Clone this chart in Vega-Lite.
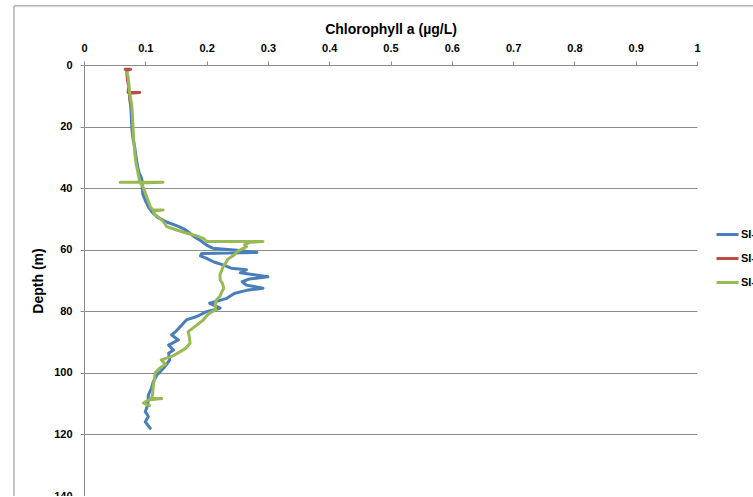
{
  "$schema": "https://vega.github.io/schema/vega-lite/v6.json",
  "autosize": {"type": "none"},
  "padding": {"left": 84, "top": 65, "right": 56, "bottom": 0},
  "width": 613,
  "height": 431,
  "background": "white",
  "config": {
    "font": "Liberation Sans",
    "view": {"stroke": null},
    "axis": {"labelFont": "Liberation Sans", "titleFont": "Liberation Sans", "labelFontWeight": "bold", "titleFontWeight": "bold", "labelColor": "#000", "titleColor": "#000", "domainColor": "#8c8c8c", "tickColor": "#8c8c8c", "labelFontSize": 11}
  },
  "datasets": {
    "frame": [{"k": "frame"}],
    "profiles": [
      {"s": "SI-1", "i": 1, "d": 10, "c": 0.074},
      {"s": "SI-1", "i": 2, "d": 13, "c": 0.076},
      {"s": "SI-1", "i": 3, "d": 16, "c": 0.077},
      {"s": "SI-1", "i": 4, "d": 20.6, "c": 0.078},
      {"s": "SI-1", "i": 5, "d": 24, "c": 0.08},
      {"s": "SI-1", "i": 6, "d": 27, "c": 0.083},
      {"s": "SI-1", "i": 7, "d": 30, "c": 0.085},
      {"s": "SI-1", "i": 8, "d": 33.5, "c": 0.088},
      {"s": "SI-1", "i": 9, "d": 35, "c": 0.09},
      {"s": "SI-1", "i": 10, "d": 36.8, "c": 0.094},
      {"s": "SI-1", "i": 11, "d": 38, "c": 0.095},
      {"s": "SI-1", "i": 12, "d": 40, "c": 0.095},
      {"s": "SI-1", "i": 13, "d": 42, "c": 0.096},
      {"s": "SI-1", "i": 14, "d": 44, "c": 0.1},
      {"s": "SI-1", "i": 15, "d": 46.4, "c": 0.106},
      {"s": "SI-1", "i": 16, "d": 48, "c": 0.112},
      {"s": "SI-1", "i": 17, "d": 49.5, "c": 0.12},
      {"s": "SI-1", "i": 18, "d": 51, "c": 0.135},
      {"s": "SI-1", "i": 19, "d": 52.5, "c": 0.155},
      {"s": "SI-1", "i": 20, "d": 53.5, "c": 0.165},
      {"s": "SI-1", "i": 21, "d": 54.5, "c": 0.172},
      {"s": "SI-1", "i": 22, "d": 55.5, "c": 0.178},
      {"s": "SI-1", "i": 23, "d": 57, "c": 0.19},
      {"s": "SI-1", "i": 24, "d": 58.5, "c": 0.2},
      {"s": "SI-1", "i": 25, "d": 59.5, "c": 0.21},
      {"s": "SI-1", "i": 26, "d": 60.2, "c": 0.25},
      {"s": "SI-1", "i": 27, "d": 60.9, "c": 0.282},
      {"s": "SI-1", "i": 28, "d": 61.2, "c": 0.192},
      {"s": "SI-1", "i": 29, "d": 62, "c": 0.19},
      {"s": "SI-1", "i": 30, "d": 62.8, "c": 0.2},
      {"s": "SI-1", "i": 31, "d": 64, "c": 0.212},
      {"s": "SI-1", "i": 32, "d": 65, "c": 0.228},
      {"s": "SI-1", "i": 33, "d": 66, "c": 0.24},
      {"s": "SI-1", "i": 34, "d": 66.5, "c": 0.265},
      {"s": "SI-1", "i": 35, "d": 67.5, "c": 0.255},
      {"s": "SI-1", "i": 36, "d": 68.8, "c": 0.3},
      {"s": "SI-1", "i": 37, "d": 69.5, "c": 0.27},
      {"s": "SI-1", "i": 38, "d": 70.4, "c": 0.258},
      {"s": "SI-1", "i": 39, "d": 71.5, "c": 0.265},
      {"s": "SI-1", "i": 40, "d": 72.5, "c": 0.292},
      {"s": "SI-1", "i": 41, "d": 73.2, "c": 0.265},
      {"s": "SI-1", "i": 42, "d": 74.2, "c": 0.245},
      {"s": "SI-1", "i": 43, "d": 75.8, "c": 0.233},
      {"s": "SI-1", "i": 44, "d": 77.4, "c": 0.205},
      {"s": "SI-1", "i": 45, "d": 79, "c": 0.222},
      {"s": "SI-1", "i": 46, "d": 80.1, "c": 0.2},
      {"s": "SI-1", "i": 47, "d": 81.7, "c": 0.184},
      {"s": "SI-1", "i": 48, "d": 82.8, "c": 0.167},
      {"s": "SI-1", "i": 49, "d": 85, "c": 0.157},
      {"s": "SI-1", "i": 50, "d": 86.5, "c": 0.15},
      {"s": "SI-1", "i": 51, "d": 87.7, "c": 0.143},
      {"s": "SI-1", "i": 52, "d": 89.3, "c": 0.154},
      {"s": "SI-1", "i": 53, "d": 91, "c": 0.138},
      {"s": "SI-1", "i": 54, "d": 92.6, "c": 0.146},
      {"s": "SI-1", "i": 55, "d": 93.6, "c": 0.138},
      {"s": "SI-1", "i": 56, "d": 95.8, "c": 0.14},
      {"s": "SI-1", "i": 57, "d": 98, "c": 0.132},
      {"s": "SI-1", "i": 58, "d": 100.7, "c": 0.119},
      {"s": "SI-1", "i": 59, "d": 102.9, "c": 0.113},
      {"s": "SI-1", "i": 60, "d": 105, "c": 0.11},
      {"s": "SI-1", "i": 61, "d": 107.2, "c": 0.105},
      {"s": "SI-1", "i": 62, "d": 110.4, "c": 0.104},
      {"s": "SI-1", "i": 63, "d": 112.6, "c": 0.1},
      {"s": "SI-1", "i": 64, "d": 114.2, "c": 0.105},
      {"s": "SI-1", "i": 65, "d": 115.9, "c": 0.1},
      {"s": "SI-1", "i": 66, "d": 118, "c": 0.108},

      {"s": "SI-2", "i": 1, "d": 1.4, "c": 0.067},
      {"s": "SI-2", "i": 2, "d": 1.4, "c": 0.076},
      {"s": "SI-2", "i": 3, "d": 1.7, "c": 0.07},
      {"s": "SI-2", "i": 4, "d": 3, "c": 0.07},
      {"s": "SI-2", "i": 5, "d": 5, "c": 0.071},
      {"s": "SI-2", "i": 6, "d": 7, "c": 0.073},
      {"s": "SI-2", "i": 7, "d": 8.9, "c": 0.072},
      {"s": "SI-2", "i": 8, "d": 8.9, "c": 0.091},
      {"s": "SI-2", "i": 9, "d": 9.2, "c": 0.074},
      {"s": "SI-2", "i": 10, "d": 11, "c": 0.075},
      {"s": "SI-2", "i": 11, "d": 12.5, "c": 0.076},

      {"s": "SI-3", "i": 1, "d": 2.5, "c": 0.07},
      {"s": "SI-3", "i": 2, "d": 4, "c": 0.072},
      {"s": "SI-3", "i": 3, "d": 6, "c": 0.073},
      {"s": "SI-3", "i": 4, "d": 8, "c": 0.074},
      {"s": "SI-3", "i": 5, "d": 10, "c": 0.075},
      {"s": "SI-3", "i": 6, "d": 13, "c": 0.078},
      {"s": "SI-3", "i": 7, "d": 16, "c": 0.079},
      {"s": "SI-3", "i": 8, "d": 20, "c": 0.08},
      {"s": "SI-3", "i": 9, "d": 24, "c": 0.081},
      {"s": "SI-3", "i": 10, "d": 29, "c": 0.083},
      {"s": "SI-3", "i": 11, "d": 32, "c": 0.085},
      {"s": "SI-3", "i": 12, "d": 35, "c": 0.088},
      {"s": "SI-3", "i": 13, "d": 37, "c": 0.09},
      {"s": "SI-3", "i": 14, "d": 38.1, "c": 0.09},
      {"s": "SI-3", "i": 15, "d": 38.1, "c": 0.059},
      {"s": "SI-3", "i": 16, "d": 38.1, "c": 0.129},
      {"s": "SI-3", "i": 17, "d": 38.3, "c": 0.092},
      {"s": "SI-3", "i": 18, "d": 39.5, "c": 0.096},
      {"s": "SI-3", "i": 19, "d": 41, "c": 0.099},
      {"s": "SI-3", "i": 20, "d": 43.8, "c": 0.104},
      {"s": "SI-3", "i": 21, "d": 46, "c": 0.108},
      {"s": "SI-3", "i": 22, "d": 47, "c": 0.112},
      {"s": "SI-3", "i": 23, "d": 47.1, "c": 0.129},
      {"s": "SI-3", "i": 24, "d": 47.4, "c": 0.113},
      {"s": "SI-3", "i": 25, "d": 48.5, "c": 0.115},
      {"s": "SI-3", "i": 26, "d": 49.5, "c": 0.122},
      {"s": "SI-3", "i": 27, "d": 51, "c": 0.13},
      {"s": "SI-3", "i": 28, "d": 52.5, "c": 0.135},
      {"s": "SI-3", "i": 29, "d": 53.5, "c": 0.15},
      {"s": "SI-3", "i": 30, "d": 54.5, "c": 0.165},
      {"s": "SI-3", "i": 31, "d": 55.5, "c": 0.184},
      {"s": "SI-3", "i": 32, "d": 56.5, "c": 0.196},
      {"s": "SI-3", "i": 33, "d": 57.3, "c": 0.2},
      {"s": "SI-3", "i": 34, "d": 57.3, "c": 0.292},
      {"s": "SI-3", "i": 35, "d": 57.6, "c": 0.27},
      {"s": "SI-3", "i": 36, "d": 58.4, "c": 0.262},
      {"s": "SI-3", "i": 37, "d": 59, "c": 0.265},
      {"s": "SI-3", "i": 38, "d": 60.6, "c": 0.25},
      {"s": "SI-3", "i": 39, "d": 61.7, "c": 0.245},
      {"s": "SI-3", "i": 40, "d": 63, "c": 0.235},
      {"s": "SI-3", "i": 41, "d": 64, "c": 0.232},
      {"s": "SI-3", "i": 42, "d": 65.5, "c": 0.227},
      {"s": "SI-3", "i": 43, "d": 66.5, "c": 0.225},
      {"s": "SI-3", "i": 44, "d": 68, "c": 0.222},
      {"s": "SI-3", "i": 45, "d": 69.8, "c": 0.222},
      {"s": "SI-3", "i": 46, "d": 71, "c": 0.226},
      {"s": "SI-3", "i": 47, "d": 72.5, "c": 0.228},
      {"s": "SI-3", "i": 48, "d": 73.6, "c": 0.225},
      {"s": "SI-3", "i": 49, "d": 75, "c": 0.222},
      {"s": "SI-3", "i": 50, "d": 76.3, "c": 0.216},
      {"s": "SI-3", "i": 51, "d": 78, "c": 0.214},
      {"s": "SI-3", "i": 52, "d": 79.5, "c": 0.215},
      {"s": "SI-3", "i": 53, "d": 80.6, "c": 0.205},
      {"s": "SI-3", "i": 54, "d": 81.5, "c": 0.2},
      {"s": "SI-3", "i": 55, "d": 82.8, "c": 0.195},
      {"s": "SI-3", "i": 56, "d": 84.5, "c": 0.184},
      {"s": "SI-3", "i": 57, "d": 86.6, "c": 0.17},
      {"s": "SI-3", "i": 58, "d": 88.5, "c": 0.172},
      {"s": "SI-3", "i": 59, "d": 90.4, "c": 0.173},
      {"s": "SI-3", "i": 60, "d": 92, "c": 0.166},
      {"s": "SI-3", "i": 61, "d": 93.1, "c": 0.157},
      {"s": "SI-3", "i": 62, "d": 94.5, "c": 0.145},
      {"s": "SI-3", "i": 63, "d": 95.8, "c": 0.126},
      {"s": "SI-3", "i": 64, "d": 97.2, "c": 0.133},
      {"s": "SI-3", "i": 65, "d": 98.4, "c": 0.124},
      {"s": "SI-3", "i": 66, "d": 100, "c": 0.116},
      {"s": "SI-3", "i": 67, "d": 102, "c": 0.115},
      {"s": "SI-3", "i": 68, "d": 104.2, "c": 0.113},
      {"s": "SI-3", "i": 69, "d": 107, "c": 0.112},
      {"s": "SI-3", "i": 70, "d": 108.3, "c": 0.11},
      {"s": "SI-3", "i": 71, "d": 108.3, "c": 0.127},
      {"s": "SI-3", "i": 72, "d": 108.8, "c": 0.105},
      {"s": "SI-3", "i": 73, "d": 109.8, "c": 0.097},
      {"s": "SI-3", "i": 74, "d": 110.3, "c": 0.102},
      {"s": "SI-3", "i": 75, "d": 110.6, "c": 0.107}
    ]
  },
  "layer": [
    {
      "data": {"name": "frame"},
      "mark": {"type": "rect", "fill": "transparent", "stroke": "#8c8c8c", "strokeWidth": 1, "clip": false},
      "encoding": {
        "x": {"datum": -0.1142, "type": "quantitative", "scale": {"domain": [0, 1], "nice": false}},
        "x2": {"datum": 1.3},
        "y": {"datum": -19.2, "type": "quantitative", "scale": {"domain": [0, 140], "reverse": true, "nice": false}},
        "y2": {"datum": 170}
      }
    },
    {
      "data": {"name": "profiles"},
      "mark": {"type": "line", "strokeWidth": 3, "strokeJoin": "round", "strokeCap": "round", "clip": false},
      "encoding": {
        "x": {
          "field": "c", "type": "quantitative",
          "scale": {"domain": [0, 1], "nice": false},
          "axis": {"orient": "top", "title": "Chlorophyll a (µg/L)", "titleFontSize": 14, "titlePadding": 6, "values": [0, 0.1, 0.2, 0.3, 0.4, 0.5, 0.6, 0.7, 0.8, 0.9, 1], "format": "~g", "grid": false, "tickSize": 4, "labelPadding": 8, "labelFlush": false}
        },
        "y": {
          "field": "d", "type": "quantitative",
          "scale": {"domain": [0, 140], "reverse": true, "nice": false},
          "axis": {"title": "Depth (m)", "titleFontSize": 14, "titlePadding": 8, "values": [0, 20, 40, 60, 80, 100, 120, 140], "grid": true, "gridColor": "#8c8c8c", "gridWidth": 1, "tickSize": 4, "labelPadding": 8}
        },
        "color": {
          "field": "s", "type": "nominal",
          "scale": {"domain": ["SI-1", "SI-2", "SI-3"], "range": ["#4a7ebb", "#be4b48", "#98b954"]},
          "legend": {"title": null, "orient": "none", "legendX": 631, "legendY": 157, "symbolType": "stroke", "symbolSize": 484, "symbolStrokeWidth": 3, "labelFontSize": 11, "labelFontWeight": "bold", "labelColor": "#000", "labelFont": "Liberation Sans", "rowPadding": 5, "labelOffset": 1}
        },
        "detail": {"field": "s"},
        "order": {"field": "i", "type": "quantitative"}
      }
    }
  ]
}
